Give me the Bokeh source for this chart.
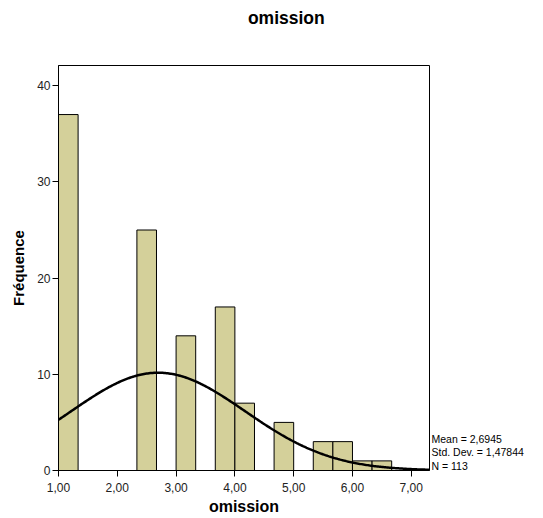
import numpy as np
from bokeh.plotting import figure
from bokeh.models import FixedTicker, Range1d, LinearAxis, ColumnDataSource
from bokeh.embed import file_html
from bokeh.resources import INLINE

# histogram bins (bin width 1/3) and counts
bin_left = [1.0, 7/3, 3.0, 11/3, 4.0, 14/3, 16/3, 17/3, 6.0, 19/3]
bin_right = [4/3, 8/3, 10/3, 4.0, 13/3, 5.0, 17/3, 6.0, 19/3, 20/3]
counts = [37, 25, 14, 17, 7, 5, 3, 3, 1, 1]

mean = 2.6945
std = 1.47844
n = 113
bin_width = 1/3

x_ticks = [1, 2, 3, 4, 5, 6, 7]
x_tick_labels = ["1,00", "2,00", "3,00", "4,00", "5,00", "6,00", "7,00"]
y_ticks = [0, 10, 20, 30, 40]
stats = ["Mean = 2,6945", "Std. Dev. = 1,47844", "N = 113"]
title_text = "omission"

FONT = "Liberation Sans"

p = figure(width=543, height=518, output_backend="svg", toolbar_location=None,
           x_range=Range1d(1.0, 7.31), y_range=Range1d(0, 42.1),
           min_border_left=58, min_border_right=114, min_border_top=65, min_border_bottom=48)

src = ColumnDataSource(dict(left=bin_left, right=bin_right, top=counts))
p.quad(left="left", right="right", bottom=0, top="top", source=src,
       fill_color="#d4d09a", line_color="black", line_width=1)

xs = np.linspace(1.0, 7.31, 300)
ys = n * bin_width * np.exp(-0.5 * ((xs - mean) / std) ** 2) / (std * np.sqrt(2 * np.pi))
p.line(xs, ys, line_color="black", line_width=2.5)

p.xgrid.visible = False
p.ygrid.visible = False
p.outline_line_color = "black"
p.outline_line_width = 1
p.outline_line_alpha = 1
p.background_fill_color = "white"
p.border_fill_color = "white"

p.xaxis.ticker = FixedTicker(ticks=x_ticks)
p.xaxis.major_label_overrides = {t: l for t, l in zip(x_ticks, x_tick_labels)}
p.yaxis.ticker = FixedTicker(ticks=y_ticks)
for ax in (p.xaxis, p.yaxis):
    ax.minor_tick_line_color = None
    ax.major_tick_in = 0
    ax.major_tick_out = 6
    ax.axis_line_color = "black"
    ax.major_tick_line_color = "black"
    ax.major_label_text_font = FONT
    ax.major_label_text_font_size = "12px"
    ax.major_label_text_color = "#222222"
    ax.axis_label_text_font = FONT
    ax.axis_label_text_font_style = "bold"
    ax.axis_label_text_color = "black"

p.xaxis.axis_label = "omission"
p.yaxis.axis_label = "Fréquence"
p.xaxis.axis_label_text_font_size = "16px"
p.yaxis.axis_label_text_font_size = "15px"
p.xaxis.major_label_standoff = 6
p.xaxis.axis_label_standoff = 3
p.yaxis.major_label_standoff = 2
p.yaxis.axis_label_standoff = 7

# chart title, carried by a bare axis above the frame
title_pos = 4.875
title_axis = LinearAxis(ticker=FixedTicker(ticks=[title_pos]),
                        major_label_overrides={title_pos: title_text},
                        axis_line_color=None, major_tick_line_color=None,
                        minor_tick_line_color=None, major_tick_in=0, major_tick_out=0,
                        major_label_standoff=38,
                        major_label_text_font=FONT, major_label_text_font_size="17.5px",
                        major_label_text_font_style="bold", major_label_text_color="black")
p.add_layout(title_axis, "above")

# statistics text, carried by a bare axis at the right of the frame
stats_pos = [3.25, 1.875, 0.5]
stats_axis = LinearAxis(ticker=FixedTicker(ticks=stats_pos),
                        major_label_overrides={k: s for k, s in zip(stats_pos, stats)},
                        axis_line_color=None, major_tick_line_color=None,
                        minor_tick_line_color=None, major_tick_in=0, major_tick_out=0,
                        major_label_standoff=2,
                        major_label_text_font=FONT, major_label_text_font_size="10.5px",
                        major_label_text_color="black")
p.add_layout(stats_axis, "right")

open("out.html", "w").write(file_html(p, INLINE))
